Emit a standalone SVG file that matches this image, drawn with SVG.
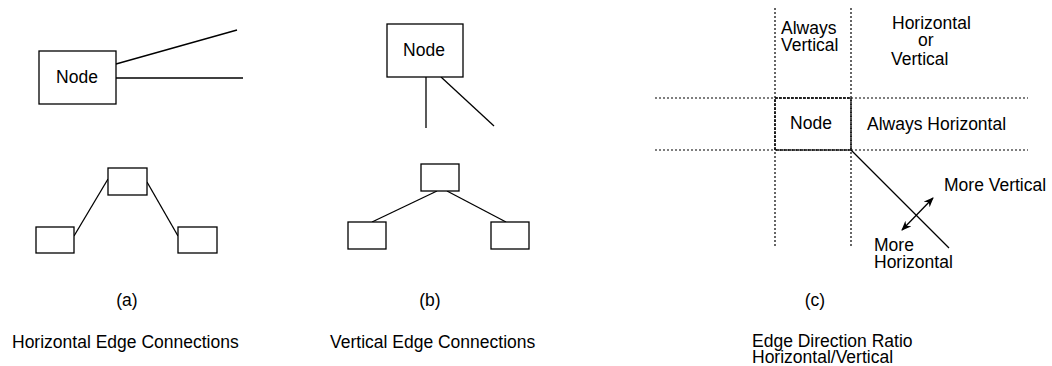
<svg xmlns="http://www.w3.org/2000/svg" width="1052" height="366" viewBox="0 0 1052 366">
<defs>
<style>
.box{fill:#fff;stroke:#000;stroke-width:1.3}
.ln{stroke:#000;stroke-width:1.3;fill:none}
.dot{stroke:#000;stroke-width:1.2;stroke-dasharray:2 2;fill:none}
text{font-family:"Liberation Sans",Arial,sans-serif;font-size:17.5px;fill:#000}
.mid{text-anchor:middle}
</style>
<marker id="ah" viewBox="0 0 10 10" refX="9" refY="5" markerWidth="10" markerHeight="10" markerUnits="userSpaceOnUse" orient="auto-start-reverse">
<path d="M0,1 L10,5 L0,9 L3,5 Z" fill="#000"/>
</marker>
</defs>
<rect width="1052" height="366" fill="#fff"/>
<g id="connectors">
<line class="ln" x1="116" y1="64" x2="237" y2="30"/>
<line class="ln" x1="116" y1="78" x2="243" y2="78"/>
<line class="ln" x1="74" y1="236" x2="108" y2="179"/>
<line class="ln" x1="147" y1="182" x2="178" y2="236"/>
<line class="ln" x1="426" y1="77" x2="426" y2="128"/>
<line class="ln" x1="441" y1="77" x2="494" y2="126"/>
<line class="ln" x1="437" y1="191" x2="372" y2="222"/>
<line class="ln" x1="447" y1="191" x2="506" y2="222"/>
<line class="dot" x1="775" y1="8" x2="775" y2="248"/>
<line class="dot" x1="851" y1="8" x2="851" y2="248"/>
<line class="dot" x1="655" y1="98" x2="1028" y2="98"/>
<line class="dot" x1="655" y1="150" x2="1028" y2="150"/>
<line class="ln" x1="851" y1="150" x2="949" y2="248"/>
<line class="ln" x1="902" y1="230" x2="933" y2="198" marker-start="url(#ah)" marker-end="url(#ah)"/>
</g>
<g id="nodeA">
<rect class="box" x="39" y="51" width="77" height="53"/>
<text class="mid" x="77" y="83">Node</text>
</g>
<g id="nodeA1"><rect class="box" x="108" y="168" width="39" height="27"/></g>
<g id="nodeA2"><rect class="box" x="36" y="227" width="38" height="26"/></g>
<g id="nodeA3"><rect class="box" x="178" y="227" width="39" height="26"/></g>
<g id="nodeB">
<rect class="box" x="387" y="24" width="76" height="53"/>
<text class="mid" x="424" y="56">Node</text>
</g>
<g id="nodeB1"><rect class="box" x="421" y="164" width="38" height="27"/></g>
<g id="nodeB2"><rect class="box" x="348" y="222" width="38" height="27"/></g>
<g id="nodeB3"><rect class="box" x="491" y="222" width="38" height="27"/></g>
<g id="nodeC">
<rect x="775" y="98" width="76" height="52" fill="none" stroke="#000" stroke-width="1.4" stroke-dasharray="3 1"/>
<text class="mid" x="811" y="129">Node</text>
</g>
<g id="labels">
<text x="781" y="34">Always</text>
<text x="781" y="51">Vertical</text>
<text x="892" y="29">Horizontal</text>
<text x="918" y="46">or</text>
<text x="891" y="65">Vertical</text>
<text x="867" y="130">Always Horizontal</text>
<text x="944" y="191">More Vertical</text>
<text x="874" y="251">More</text>
<text x="874" y="268">Horizontal</text>
<text class="mid" x="127" y="306">(a)</text>
<text class="mid" x="430" y="306">(b)</text>
<text class="mid" x="815" y="306">(c)</text>
<text x="12" y="348">Horizontal Edge Connections</text>
<text x="330" y="348">Vertical Edge Connections</text>
<text x="752" y="347">Edge Direction Ratio</text>
<text x="752" y="363">Horizontal/Vertical</text>
</g>
</svg>
